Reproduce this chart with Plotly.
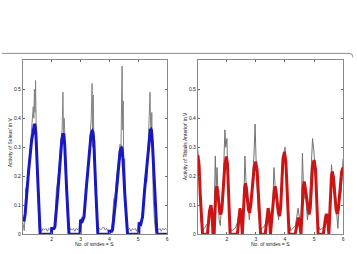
import plotly.graph_objects as go

W, H = 357, 254

# ---- Left panel (Soleus) ----
blue_x = [1.0, 1.04, 1.08, 1.12, 1.2, 1.3, 1.35, 1.38, 1.40, 1.42, 1.45, 1.52, 1.56, 1.60,
          1.99, 2.0, 2.08, 2.11, 2.2, 2.3, 2.35, 2.38, 2.40, 2.42, 2.45, 2.52, 2.56, 2.60,
          2.98, 3.0, 3.06, 3.12, 3.2, 3.3, 3.36, 3.39, 3.41, 3.43, 3.46, 3.53, 3.57, 3.60,
          3.99, 4.0, 4.08, 4.11, 4.2, 4.3, 4.37, 4.40, 4.42, 4.44, 4.47, 4.54, 4.59, 4.63,
          5.02, 5.03, 5.09, 5.15, 5.22, 5.32, 5.39, 5.42, 5.44, 5.46, 5.49, 5.56, 5.61, 5.65, 6.0]
blue_y = [0.055, 0.045, 0.07, 0.13, 0.22, 0.32, 0.36, 0.376, 0.38, 0.377, 0.35, 0.18, 0.07, 0.0,
          0.0, 0.02, 0.02, 0.025, 0.13, 0.27, 0.325, 0.343, 0.347, 0.343, 0.31, 0.15, 0.06, 0.0,
          0.0, 0.05, 0.045, 0.06, 0.16, 0.28, 0.34, 0.353, 0.356, 0.352, 0.32, 0.15, 0.06, 0.0,
          0.0, 0.01, 0.01, 0.015, 0.1, 0.22, 0.285, 0.296, 0.298, 0.294, 0.26, 0.13, 0.05, 0.0,
          0.0, 0.04, 0.035, 0.06, 0.15, 0.27, 0.345, 0.36, 0.362, 0.358, 0.32, 0.16, 0.06, 0.0, 0.0]

gray1_x = [1.0, 1.03, 1.05, 1.08, 1.1, 1.12, 1.15, 1.2, 1.25, 1.3, 1.33, 1.36, 1.38, 1.40, 1.42, 1.44,
           1.46, 1.48, 1.50, 1.53, 1.56, 1.6, 1.62, 1.66, 1.7, 1.75, 1.8, 1.85, 1.9, 1.95,
           2.0, 2.05, 2.1, 2.13, 2.16, 2.2, 2.25, 2.3, 2.33, 2.36, 2.39, 2.41, 2.43, 2.45,
           2.48, 2.52, 2.56, 2.6, 2.65, 2.7, 2.75, 2.8, 2.85, 2.9, 2.95,
           3.0, 3.05, 3.1, 3.15, 3.2, 3.25, 3.3, 3.34, 3.37, 3.40, 3.42, 3.44, 3.46, 3.48,
           3.5, 3.53, 3.57, 3.6, 3.65, 3.7, 3.75, 3.8, 3.85, 3.9, 3.95,
           4.0, 4.05, 4.1, 4.15, 4.2, 4.25, 4.3, 4.34, 4.37, 4.40, 4.42, 4.44, 4.46, 4.48,
           4.50, 4.53, 4.56, 4.6, 4.65, 4.7, 4.75, 4.8, 4.85, 4.9, 4.95,
           5.0, 5.05, 5.1, 5.15, 5.2, 5.25, 5.3, 5.33, 5.37, 5.41, 5.43, 5.45, 5.47, 5.49,
           5.52, 5.56, 5.6, 5.65, 5.7, 5.75, 5.8, 5.85, 5.9, 5.95, 6.0]
gray1_y = [0.04, 0.02, 0.012, 0.08, 0.16, 0.12, 0.16, 0.22, 0.28, 0.33, 0.38, 0.44, 0.40, 0.50, 0.42, 0.53,
           0.38, 0.30, 0.18, 0.08, 0.02, 0.0, 0.02, 0.01, 0.02, 0.015, 0.02, 0.01, 0.02, 0.015,
           0.01, 0.02, 0.03, 0.08, 0.15, 0.18, 0.22, 0.30, 0.33, 0.36, 0.49, 0.33, 0.40, 0.36,
           0.22, 0.10, 0.02, 0.005, 0.02, 0.015, 0.02, 0.01, 0.02, 0.015, 0.02,
           0.04, 0.06, 0.05, 0.10, 0.14, 0.20, 0.28, 0.34, 0.40, 0.52, 0.30, 0.48, 0.33, 0.34,
           0.25, 0.12, 0.03, 0.005, 0.02, 0.015, 0.02, 0.025, 0.015, 0.02, 0.01,
           0.015, 0.01, 0.04, 0.12, 0.13, 0.20, 0.25, 0.30, 0.31, 0.28, 0.42, 0.58, 0.36, 0.46,
           0.17, 0.26, 0.08, 0.02, 0.015, 0.02, 0.01, 0.02, 0.015, 0.02, 0.01,
           0.03, 0.04, 0.03, 0.08, 0.15, 0.20, 0.18, 0.28, 0.33, 0.49, 0.38, 0.33, 0.42, 0.22,
           0.13, 0.05, 0.01, 0.02, 0.015, 0.02, 0.01, 0.02, 0.015, 0.02, 0.015]

# ---- Right panel (Tibialis Anterior) ----
red_x = [1.0, 1.04, 1.08, 1.16, 1.33, 1.40, 1.45, 1.48, 1.52, 1.56, 1.62, 1.65, 1.68, 1.75, 1.79, 1.83,
         1.93, 1.98, 2.02, 2.11,
         2.36, 2.42, 2.45, 2.48, 2.53, 2.61, 2.64, 2.67, 2.74, 2.78, 2.82, 2.94, 2.99, 3.04, 3.16,
         3.32, 3.39, 3.42, 3.45, 3.50, 3.63, 3.66, 3.69, 3.77, 3.81, 3.85, 3.93, 3.98, 4.03, 4.14,
         4.35, 4.43, 4.46, 4.49, 4.55, 4.63, 4.66, 4.69, 4.79, 4.83, 4.87, 4.95, 5.0, 5.05, 5.14,
         5.32, 5.40, 5.43, 5.46, 5.51, 5.60, 5.63, 5.66, 5.76, 5.80, 5.84, 5.95, 6.0]
red_y = [0.273, 0.24, 0.14, 0.0, 0.0, 0.08, 0.10, 0.08, 0.0, 0.0, 0.15, 0.165, 0.15, 0.08, 0.068, 0.09,
         0.24, 0.268, 0.24, 0.0,
         0.0, 0.075, 0.089, 0.075, 0.0, 0.16, 0.176, 0.16, 0.085, 0.074, 0.1, 0.23, 0.25, 0.22, 0.0,
         0.0, 0.075, 0.09, 0.075, 0.0, 0.15, 0.165, 0.15, 0.075, 0.063, 0.09, 0.26, 0.284, 0.25, 0.0,
         0.0, 0.05, 0.057, 0.05, 0.0, 0.165, 0.182, 0.165, 0.08, 0.068, 0.09, 0.235, 0.256, 0.225, 0.0,
         0.0, 0.06, 0.07, 0.06, 0.0, 0.2, 0.216, 0.2, 0.085, 0.07, 0.09, 0.215, 0.23]

gray2_x = [1.0, 1.05, 1.1, 1.17, 1.22, 1.28, 1.35, 1.42, 1.46, 1.5, 1.55, 1.6, 1.63, 1.66, 1.7, 1.73,
           1.77, 1.82, 1.88, 1.93, 1.96, 2.0, 2.04, 2.1, 2.15, 2.2, 2.28, 2.36, 2.44, 2.48, 2.53,
           2.58, 2.62, 2.67, 2.72, 2.77, 2.82, 2.88, 2.93, 2.97, 3.02, 3.08, 3.15, 3.22, 3.3,
           3.38, 3.42, 3.47, 3.52, 3.58, 3.62, 3.67, 3.72, 3.78, 3.85, 3.92, 3.97, 4.0, 4.05,
           4.12, 4.2, 4.28, 4.36, 4.45, 4.5, 4.55, 4.6, 4.65, 4.7, 4.77, 4.84, 4.9, 4.95, 5.0,
           5.05, 5.12, 5.2, 5.28, 5.36, 5.43, 5.48, 5.54, 5.6, 5.65, 5.7, 5.76, 5.82, 5.88, 5.94, 6.0]
gray2_y = [0.29, 0.2, 0.05, 0.012, 0.02, 0.03, 0.04, 0.09, 0.10, 0.04, 0.02, 0.27, 0.15, 0.23, 0.12, 0.05,
           0.03, 0.10, 0.20, 0.36, 0.30, 0.33, 0.15, 0.04, 0.01, 0.015, 0.02, 0.04, 0.085, 0.05, 0.02,
           0.1, 0.27, 0.15, 0.12, 0.05, 0.10, 0.2, 0.27, 0.38, 0.2, 0.08, 0.015, 0.02, 0.03,
           0.05, 0.09, 0.05, 0.02, 0.1, 0.23, 0.15, 0.1, 0.05, 0.12, 0.22, 0.28, 0.30, 0.2,
           0.05, 0.012, 0.02, 0.03, 0.09, 0.05, 0.02, 0.28, 0.12, 0.15, 0.05, 0.1, 0.22, 0.33, 0.28,
           0.2, 0.04, 0.015, 0.02, 0.03, 0.07, 0.04, 0.02, 0.24, 0.18, 0.2, 0.1, 0.02, 0.12, 0.15, 0.26]

y_ticks = [0, 0.1, 0.2, 0.3, 0.4, 0.5]
y_ticktext = ["0", "0.1", "0.2", "0.3", "0.4", "0.5"]
x_ticks = [2, 3, 4, 5, 6]
x_ticktext = ["2", "3", "4", "5", "6"]

def px(x):
    return x / W

def py(y):
    return 1 - y / H

fig = go.Figure()
fig.add_trace(go.Scatter(x=gray1_x, y=gray1_y, mode="lines",
                         line=dict(color="rgb(130,130,130)", width=1), xaxis="x", yaxis="y"))
fig.add_trace(go.Scatter(x=blue_x, y=blue_y, mode="lines",
                         line=dict(color="rgb(25,25,195)", width=3), xaxis="x", yaxis="y"))
fig.add_trace(go.Scatter(x=gray2_x, y=gray2_y, mode="lines",
                         line=dict(color="rgb(115,115,115)", width=1), xaxis="x2", yaxis="y2"))
fig.add_trace(go.Scatter(x=red_x, y=red_y, mode="lines",
                         line=dict(color="rgb(205,20,20)", width=3), xaxis="x2", yaxis="y2"))

tickfont = dict(family="Liberation Sans, Arial", size=5, color="#222")
common_x = dict(range=[1, 6], tickvals=x_ticks, ticktext=x_ticktext, ticks="inside", ticklen=2,
                tickcolor="#666", showline=True, linecolor="#888", linewidth=1, mirror="ticks",
                showgrid=False, zeroline=False, tickfont=tickfont)
common_y = dict(range=[0, 0.6], tickvals=y_ticks, ticktext=y_ticktext, ticks="inside", ticklen=2,
                tickcolor="#666", showline=True, linecolor="#888", linewidth=1, mirror="ticks",
                showgrid=False, zeroline=False, tickfont=tickfont)

fig.update_layout(
    width=W, height=H, margin=dict(l=0, r=0, t=0, b=0),
    paper_bgcolor="white", plot_bgcolor="white", showlegend=False,
    xaxis=dict(domain=[px(23), px(168)], anchor="y", **common_x),
    yaxis=dict(domain=[py(237), py(61)], anchor="x", **common_y),
    xaxis2=dict(domain=[px(199), px(345)], anchor="y2", **common_x),
    yaxis2=dict(domain=[py(237), py(61)], anchor="x2", **common_y),
)

labfont = dict(family="Liberation Sans, Arial", size=5, color="#222")
for xc, txt in [(95, "No. of strides = S"), (272, "No. of strides = S")]:
    fig.add_annotation(x=px(xc), y=py(247), xref="paper", yref="paper", text=txt,
                       xanchor="center", yanchor="middle", showarrow=False, font=labfont)
for xc, yc, txt in [(10, 144, "Activity of Soleus' in V"), (186, 148, "Activity of Tibialis Anterior' in V")]:
    fig.add_annotation(x=px(xc), y=py(yc), xref="paper", yref="paper", text=txt,
                       xanchor="center", yanchor="middle",
                       textangle=-90, showarrow=False, font=labfont)

# top frame line with rounded right corner
fig.add_shape(type="path", xref="paper", yref="paper",
              path=f"M {px(2)},{py(54)} L {px(351)},{py(54)} Q {px(355)},{py(54)} {px(355)},{py(58)}",
              line=dict(color="rgb(140,140,140)", width=1))

fig.write_html("out.html")
